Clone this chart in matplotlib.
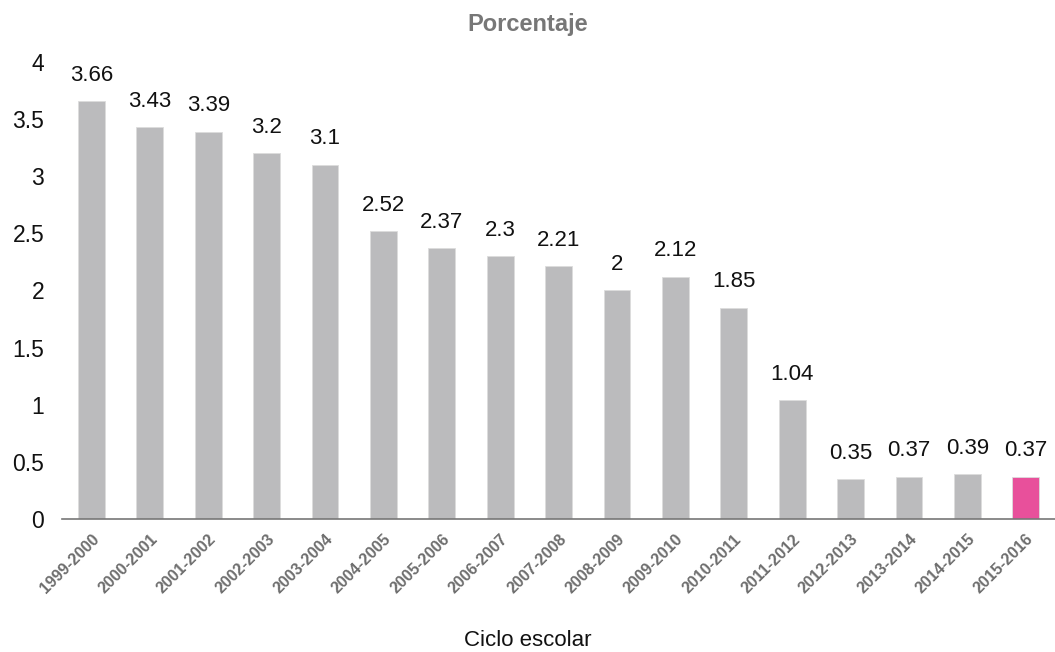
import matplotlib
matplotlib.use("Agg")
import matplotlib.pyplot as plt

plt.rcParams['font.family'] = ['Liberation Sans', 'DejaVu Sans']

ciclos = ['1999-2000', '2000-2001', '2001-2002', '2002-2003', '2003-2004',
          '2004-2005', '2005-2006', '2006-2007', '2007-2008', '2008-2009',
          '2009-2010', '2010-2011', '2011-2012', '2012-2013', '2013-2014',
          '2014-2015', '2015-2016']
porcentaje = [3.66, 3.43, 3.39, 3.2, 3.1, 2.52, 2.37, 2.3, 2.21, 2.0,
              2.12, 1.85, 1.04, 0.35, 0.37, 0.39, 0.37]
etiquetas = ['3.66', '3.43', '3.39', '3.2', '3.1', '2.52', '2.37', '2.3', '2.21', '2',
             '2.12', '1.85', '1.04', '0.35', '0.37', '0.39', '0.37']

colores = ['#bbbbbd'] * (len(ciclos) - 1) + ['#e8509b']

fig = plt.figure(figsize=(10.55, 6.52), dpi=100)
ax = fig.add_axes([0.059, 0.204, 0.941, 0.701])

x = range(len(ciclos))
bars = ax.bar(x, porcentaje, width=0.46, color=colores,
              edgecolor='#dcdcdc', linewidth=0.6)

for bar, txt in zip(bars, etiquetas):
    ax.annotate(txt, (bar.get_x() + bar.get_width() / 2, bar.get_height()),
                xytext=(0, 11), textcoords='offset points',
                ha='center', va='bottom', fontsize=16, color='#111111',
                annotation_clip=False)

ax.set_xlim(-0.5, len(ciclos) - 0.5)
ax.set_ylim(0, 4)
ax.set_yticks([0, 0.5, 1, 1.5, 2, 2.5, 3, 3.5, 4])
ax.set_yticklabels(['0', '0.5', '1', '1.5', '2', '2.5', '3', '3.5', '4'])
ax.set_xticks(list(x))
ax.set_xticklabels(ciclos, rotation=45, ha='right', rotation_mode='anchor',
                   fontsize=11.5, color='#6e6e6e', fontweight='bold')

for s in ['top', 'right', 'left']:
    ax.spines[s].set_visible(False)
ax.spines['bottom'].set_color('#777777')
ax.spines['bottom'].set_linewidth(1.2)
ax.tick_params(axis='y', length=0, labelsize=16.5, pad=13, labelcolor='#111111')
ax.tick_params(axis='x', length=0, pad=9)

fig.text(0.5, (652 - 640) / 652, 'Ciclo escolar', ha='center', va='center',
         fontsize=16, color='#111111')
fig.text(0.5, (652 - 25) / 652, 'Porcentaje', ha='center', va='center',
         fontsize=17, fontweight='bold', color='#777777')

fig.savefig('out.png', dpi=100)
